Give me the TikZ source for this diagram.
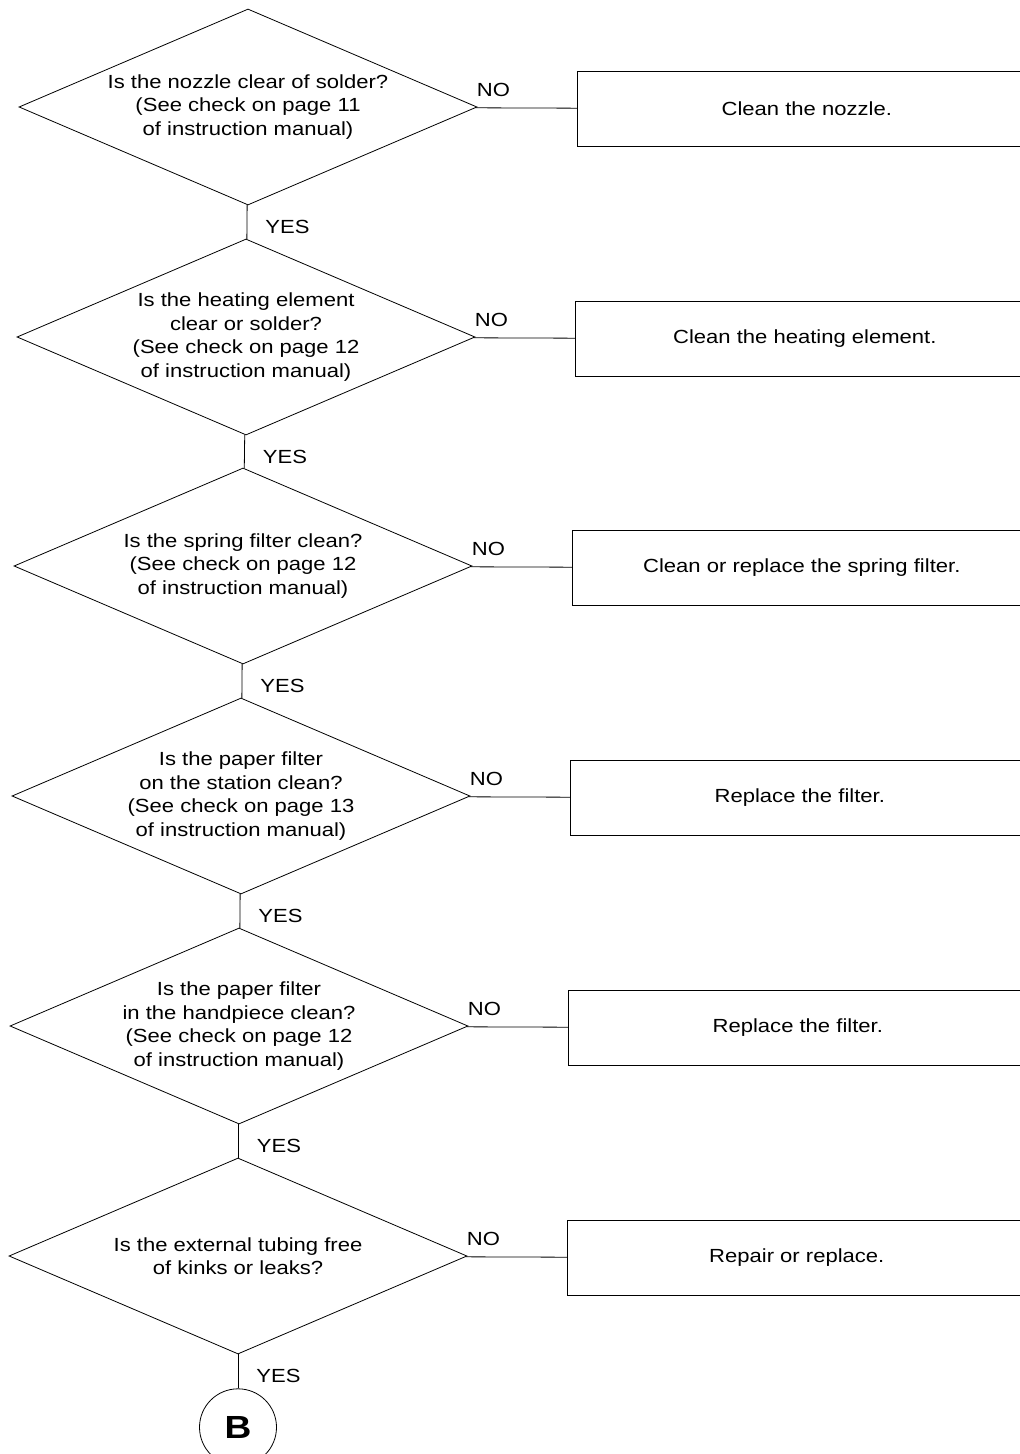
\documentclass[tikz,border=0pt]{standalone}
\usepackage{fontspec}
\setmainfont{Liberation Sans}[FakeStretch=1.16]
\usetikzlibrary{
  shapes.geometric, % Shape "diamond"
  positioning,      % Function "of" (e.g. [right=of x])
}
\def\myhdist{50pt}   % diamond tip -> action box
\def\myvdist{17pt}   % diamond -> circle
\tikzset{
  x=0.5pt,
  y=-0.5pt,
  font=\fontsize{9.5pt}{11.7pt}\selectfont,
  line width=1.1pt,
  my decision/.style={
    draw,
    diamond,
    minimum width=229pt,
    minimum height=98pt,
    inner sep=0pt
  },
  my question/.style={
    align=center,
    inner sep=0pt
  },
  my action/.style={
    draw,
    rectangle,
    minimum width=229pt,
    minimum height=37.5pt,
    inner sep=0pt,
    yshift=-1pt
  },
  my connector/.style={
    draw,
    circle,
    minimum size=38.5pt,
    inner sep=0pt,
    font=\fontsize{16pt}{16pt}\selectfont\bfseries
  },
  no label/.style={
    pos=0,
    anchor=south west,
    inner sep=0pt,
    xshift=0.5pt,
    yshift=5.5pt
  },
  yes label/.style={
    midway,
    anchor=west,
    inner sep=0pt,
    xshift=9pt,
    yshift=-2.5pt
  }
}

\begin{document}
\begin{tikzpicture}
\path[use as bounding box] (0,0) rectangle (1020,1454);
\clip (0,0) rectangle (1020,1454);
% decisions
\node[my decision] (d1) at (248,107)  {};
\node[my decision] (d2) at (246,337)  {};
\node[my decision] (d3) at (243,566)  {};
\node[my decision] (d4) at (241,796)  {};
\node[my decision] (d5) at (239,1026) {};
\node[my decision] (d6) at (238,1256) {};
\node[my question] (q1) at (d1) {Is the nozzle clear of solder?\\(See check on page 11\\of instruction manual)};
\node[my question] (q2) at (d2) {Is the heating element\\clear or solder?\\(See check on page 12\\of instruction manual)};
\node[my question] (q3) at (d3) {Is the spring filter clean?\\(See check on page 12\\of instruction manual)};
\node[my question] (q4) at (d4) {Is the paper filter\\on the station clean?\\(See check on page 13\\of instruction manual)};
\node[my question] (q5) at (d5) {Is the paper filter\\in the handpiece clean?\\(See check on page 12\\of instruction manual)};
\node[my question] (q6) at (d6) {Is the external tubing free\\of kinks or leaks?};
% actions
\node[my action] (a1) [right=\myhdist of d1] {Clean the nozzle.};
\node[my action] (a2) [right=\myhdist of d2] {Clean the heating element.};
\node[my action] (a3) [right=\myhdist of d3] {Clean or replace the spring filter.};
\node[my action] (a4) [right=\myhdist of d4] {Replace the filter.};
\node[my action] (a5) [right=\myhdist of d5] {Replace the filter.};
\node[my action] (a6) [right=\myhdist of d6] {Repair or replace.};
\node[my connector] (b) [below=\myvdist of d6] {B};
\path (d1) edge node[no label]{NO} (a1)
      (d2) edge node[no label]{NO} (a2)
      (d3) edge node[no label]{NO} (a3)
      (d4) edge node[no label]{NO} (a4)
      (d5) edge node[no label]{NO} (a5)
      (d6) edge node[no label]{NO} (a6);
\path (d1) edge node[yes label]{YES} (d2)
      (d2) edge node[yes label]{YES} (d3)
      (d3) edge node[yes label]{YES} (d4)
      (d4) edge node[yes label]{YES} (d5)
      (d5) edge node[yes label]{YES} (d6)
      (d6) edge node[yes label]{YES} (b);
\end{tikzpicture}
\end{document}
